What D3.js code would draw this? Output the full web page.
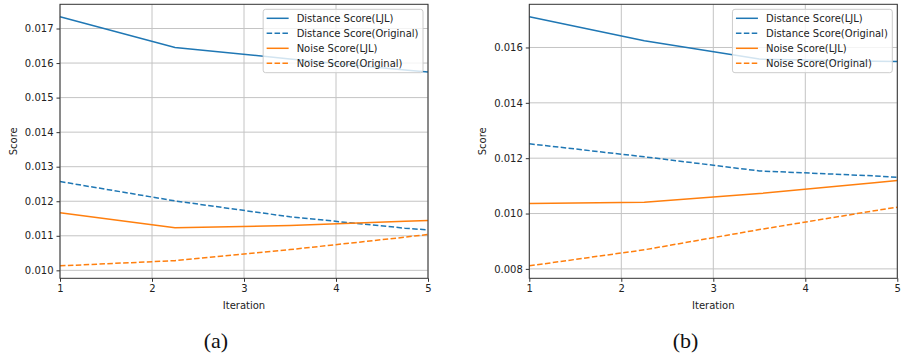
<!DOCTYPE html>
<html>
<head>
<meta charset="utf-8">
<script src="https://cdn.jsdelivr.net/npm/d3@7"></script>
<style>
  html, body { margin: 0; padding: 0; background: #fff; }
  svg { display: block; }
  text { font-family: "DejaVu Sans", sans-serif; }
  text.caption { font-family: "Liberation Serif", serif; }
</style>
</head>
<body>
<div id="chart"></div>
<script>
// data
const iterations = [1, 2.25, 3.5, 4.75, 5];
const seriesNames = ["Distance Score(LJL)", "Distance Score(Original)", "Noise Score(LJL)", "Noise Score(Original)"];

const distLJL_a  = [0.01734, 0.01645, 0.01612, 0.01580, 0.01574];
const distOrig_a = [0.01257, 0.01201, 0.01155, 0.01122, 0.01117];
const noiseLJL_a = [0.01167, 0.01123, 0.01130, 0.01142, 0.01144];
const noiseOrig_a = [0.01013, 0.01028, 0.01060, 0.01096, 0.01104];

const distLJL_b  = [0.01711, 0.01624, 0.01558, 0.01550, 0.01549];
const distOrig_b = [0.01252, 0.01205, 0.01154, 0.01136, 0.01131];
const noiseLJL_b = [0.01036, 0.01041, 0.01072, 0.01111, 0.01119];
const noiseOrig_b = [0.00811, 0.00869, 0.00942, 0.01010, 0.01023];

const xTicks = [1, 2, 3, 4, 5];
const yTicks_a = [0.010, 0.011, 0.012, 0.013, 0.014, 0.015, 0.016, 0.017];
const yTicks_b = [0.008, 0.010, 0.012, 0.014, 0.016];

const colors = ["#1f77b4", "#1f77b4", "#ff7f0e", "#ff7f0e"];
const dashes = [null, "5.5,2.4", null, "5.5,2.4"];

const svg = d3.select("#chart")
    .append("svg")
    .attr("width", 901)
    .attr("height", 356);

function drawPanel(p) {
    const series = p.series;
    const all = series.flat();
    const lo = d3.min(all), hi = d3.max(all);
    const pad = (hi - lo) * 0.05;

    const x = d3.scaleLinear().domain([1, 5]).range([p.left, p.right]);
    const y = d3.scaleLinear().domain([lo - pad, hi + pad]).range([p.bottom, p.top]);

    const g = svg.append("g");

    // grid
    g.selectAll(".vgrid").data(xTicks).enter().append("line")
        .attr("x1", d => x(d)).attr("x2", d => x(d))
        .attr("y1", p.top).attr("y2", p.bottom)
        .attr("stroke", "#c4c4c4").attr("stroke-width", 1);
    g.selectAll(".hgrid").data(p.yTicks).enter().append("line")
        .attr("x1", p.left).attr("x2", p.right)
        .attr("y1", d => y(d)).attr("y2", d => y(d))
        .attr("stroke", "#c4c4c4").attr("stroke-width", 1);

    // series lines
    const line = d3.line()
        .x((d, i) => x(iterations[i]))
        .y(d => y(d));

    series.forEach((s, i) => {
        g.append("path")
            .datum(s)
            .attr("d", line)
            .attr("fill", "none")
            .attr("stroke", colors[i])
            .attr("stroke-width", 1.5)
            .attr("stroke-dasharray", dashes[i]);
    });

    // frame
    g.append("rect")
        .attr("x", p.left).attr("y", p.top)
        .attr("width", p.right - p.left).attr("height", p.bottom - p.top)
        .attr("fill", "none").attr("stroke", "#333").attr("stroke-width", 1);

    // axes
    const xAxis = d3.axisBottom(x).tickValues(xTicks).tickFormat(d3.format("d"))
        .tickSizeInner(3.5).tickSizeOuter(0).tickPadding(3);
    const yAxis = d3.axisLeft(y).tickValues(p.yTicks).tickFormat(d3.format(".3f"))
        .tickSizeInner(3.5).tickSizeOuter(0).tickPadding(3);

    const gx = g.append("g").attr("transform", `translate(0,${p.bottom})`).call(xAxis);
    const gy = g.append("g").attr("transform", `translate(${p.left},0)`).call(yAxis);
    [gx, gy].forEach(a => {
        a.select(".domain").remove();
        a.selectAll("line").attr("stroke", "#333");
        a.selectAll("text").attr("font-size", "10px").attr("fill", "#222")
            .attr("font-family", "DejaVu Sans, sans-serif");
    });

    g.append("text")
        .attr("x", (p.left + p.right) / 2)
        .attr("y", 308.5)
        .attr("text-anchor", "middle")
        .attr("font-size", "10px")
        .attr("fill", "#222")
        .text("Iteration");

    g.append("text")
        .attr("transform", `translate(${p.ylabelX},${(p.top + p.bottom) / 2}) rotate(-90)`)
        .attr("text-anchor", "middle")
        .attr("font-size", "10px")
        .attr("fill", "#222")
        .text("Score");

    // legend
    const lg = g.append("g");
    const box = lg.append("rect")
        .attr("fill", "rgba(255,255,255,0.8)")
        .attr("stroke", "#cccccc")
        .attr("stroke-width", 1)
        .attr("rx", 2.5);
    let maxW = 0;
    const items = seriesNames.map((name, i) => {
        const row = lg.append("g");
        row.append("line")
            .attr("x1", 0).attr("x2", 22)
            .attr("y1", 0).attr("y2", 0)
            .attr("stroke", colors[i])
            .attr("stroke-width", 1.5)
            .attr("stroke-dasharray", dashes[i]);
        const t = row.append("text")
            .attr("x", 30).attr("dy", "0.35em")
            .attr("font-size", "10px")
            .attr("fill", "#222")
            .text(name);
        maxW = Math.max(maxW, t.node().getComputedTextLength());
        return row;
    });
    const boxW = 30 + maxW + 8;
    const boxH = 63.4;
    const bx = p.right - 5 - boxW, by = p.top + 5;
    box.attr("x", bx).attr("y", by).attr("width", boxW).attr("height", boxH);
    items.forEach((row, i) => {
        row.attr("transform", `translate(${bx + 3.5},${by + 9 + i * 15})`);
    });

    // caption
    svg.append("text")
        .attr("class", "caption")
        .attr("x", p.captionX)
        .attr("y", 348)
        .attr("text-anchor", "middle")
        .attr("font-size", "22px")
        .attr("fill", "#111")
        .text(p.caption);
}

drawPanel({
    series: [distLJL_a, distOrig_a, noiseLJL_a, noiseOrig_a],
    yTicks: yTicks_a,
    left: 60, right: 428, top: 4.3, bottom: 278.3,
    ylabelX: 16.5, captionX: 216, caption: "(a)"
});

drawPanel({
    series: [distLJL_b, distOrig_b, noiseLJL_b, noiseOrig_b],
    yTicks: yTicks_b,
    left: 529.3, right: 897.3, top: 4.3, bottom: 278.3,
    ylabelX: 486, captionX: 685.5, caption: "(b)"
});
</script>
</body>
</html>
